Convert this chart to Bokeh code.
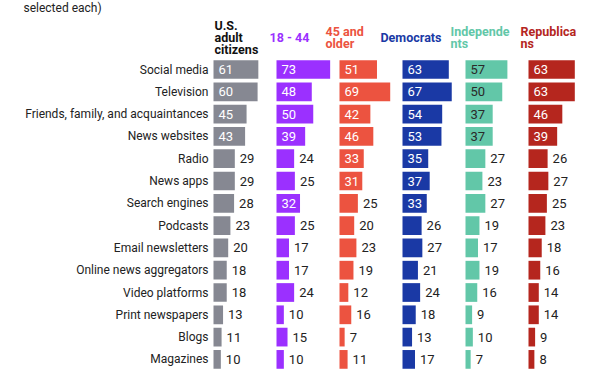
from bokeh.plotting import figure
from bokeh.models import ColumnDataSource, Range1d
from bokeh.core.properties import value
from bokeh.embed import file_html
from bokeh.resources import INLINE

categories = ["Social media", "Television", "Friends, family, and acquaintances",
              "News websites", "Radio", "News apps", "Search engines", "Podcasts",
              "Email newsletters", "Online news aggregators", "Video platforms",
              "Print newspapers", "Blogs", "Magazines"]
us_adults = [61, 60, 45, 43, 29, 29, 28, 23, 20, 18, 18, 13, 11, 10]
age_18_44 = [73, 48, 50, 39, 24, 25, 32, 25, 17, 17, 24, 10, 15, 10]
age_45_up = [51, 69, 42, 46, 33, 31, 25, 20, 23, 19, 12, 16, 7, 11]
democrats = [63, 67, 54, 53, 35, 37, 33, 26, 27, 21, 24, 18, 13, 17]
independents = [57, 50, 37, 37, 27, 23, 27, 19, 17, 19, 16, 9, 10, 7]
republicans = [63, 63, 46, 39, 26, 27, 25, 23, 18, 16, 14, 14, 9, 8]

series = [us_adults, age_18_44, age_45_up, democrats, independents, republicans]
headers = [["U.S.", "adult", "citizens"], ["18 - 44"], ["45 and", "older"],
           ["Democrats"], ["Independe", "nts"], ["Republica", "ns"]]
colors = ["#868892", "#9B30FF", "#EC5340", "#1A39A5", "#62C7A8", "#B5261E"]
header_colors = ["#111111", "#9B30FF", "#EC5340", "#1A39A5", "#62C7A8", "#B5261E"]
inside_text_colors = ["white", "white", "white", "white", "#2a2a2a", "white"]
subtitle = "selected each)"

FONT = "Roboto"
W, H = 600, 372
ORIGIN_X, ORIGIN_Y = 0, 0
PX_PER_UNIT = 0.735
ROW_PX = 22.3
BAR_START_PX = 213
ROW0_PX = 69
x0 = -(BAR_START_PX - ORIGIN_X) / PX_PER_UNIT
x1 = x0 + W / PX_PER_UNIT
y_top = (ORIGIN_Y - ROW0_PX) / ROW_PX
y_bot = (ORIGIN_Y + H - ROW0_PX) / ROW_PX
col_offset = 63 / PX_PER_UNIT

p = figure(width=W, height=H, output_backend="svg", toolbar_location=None,
           x_range=Range1d(x0, x1), y_range=Range1d(y_bot, y_top),
           min_border=0, outline_line_color=None, background_fill_color="white",
           border_fill_color="white")
p.xaxis.visible = False
p.yaxis.visible = False
p.grid.visible = False

rows = list(range(len(categories)))

# category labels
p.text(x=[0] * len(rows), y=rows, text=categories, x_offset=-5,
       text_align="right", text_baseline="middle", text_font=value(FONT),
       text_font_size="12px", text_color="#222222")

for k, vals in enumerate(series):
    off = k * col_offset
    src = ColumnDataSource(dict(
        y=rows,
        left=[off] * len(vals),
        right=[off + v for v in vals],
    ))
    p.hbar(y="y", left="left", right="right", height=0.84, source=src,
           fill_color=colors[k], line_color=None)
    inside = [v >= 30 for v in vals]
    lsrc = ColumnDataSource(dict(
        x=[off if ins else off + v for v, ins in zip(vals, inside)],
        y=rows,
        t=[str(v) for v in vals],
        c=[inside_text_colors[k] if ins else "#222222" for ins in inside],
    ))
    p.text(x="x", y="y", text="t", text_color="c", source=lsrc, x_offset=5,
           text_align="left", text_baseline="middle", text_font=value(FONT),
           text_font_size="13px")

# headers
header_px = [214, 269, 325, 380, 450, 520]
center_y = (37 - ROW0_PX) / ROW_PX
line_step = 12 / ROW_PX
for k, lines in enumerate(headers):
    n = len(lines)
    ys = [center_y + (i - (n - 1) / 2) * line_step for i in range(n)]
    xh = (header_px[k] - BAR_START_PX) / PX_PER_UNIT
    p.text(x=[xh] * n, y=ys, text=lines, text_align="left", text_baseline="middle",
           text_font=value(FONT), text_font_style="bold", text_font_size="12.5px",
           text_color=header_colors[k])

# subtitle fragment
p.text(x=[(23 - BAR_START_PX) / PX_PER_UNIT], y=[y_top + 0.01], text=[subtitle],
       text_align="left", text_baseline="top", text_font=value(FONT),
       text_font_size="12px", text_color="#222222")

open("out.html", "w").write(file_html(p, INLINE))
